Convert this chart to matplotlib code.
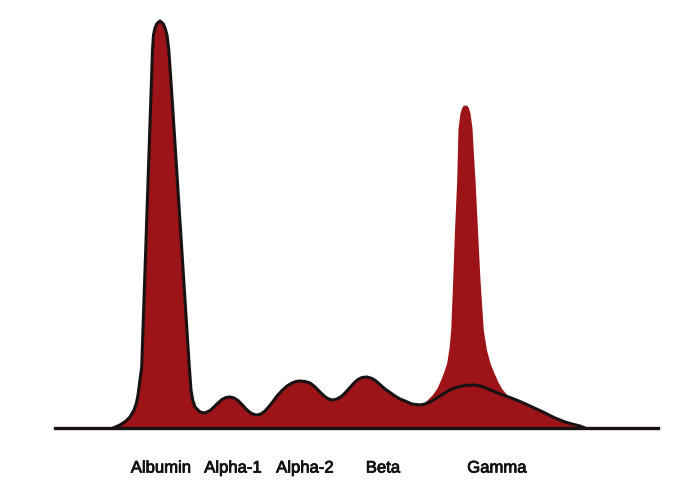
import matplotlib
matplotlib.use("Agg")
import matplotlib.pyplot as plt
import matplotlib.patheffects as pe

# Densitometer trace (x position, height above baseline)
trace_x = [113, 120, 126, 130, 134, 136.5, 138, 140, 141.7, 144, 147.4, 150.8, 152.5, 153.5, 155, 157,
           160, 163, 165, 167, 168.8, 172.2, 178.6, 185, 189.3, 191, 192.7, 195, 200,
           205, 210, 214, 218, 222, 226, 230, 234, 238, 242, 246, 250, 254, 257, 261, 265,
           269, 273, 277, 282, 287, 292, 296, 300, 305, 310, 314, 318, 322, 326, 330, 333,
           337, 342, 346, 350, 354, 358, 362, 367, 372, 376, 381, 385, 390, 395, 400, 405,
           412, 420, 425, 430, 435, 440, 445, 450, 456, 462, 468, 475, 482, 488, 494, 500,
           510, 520, 530, 543, 555, 565, 572, 580, 585]
trace_h = [0, 3, 7, 11, 18, 25, 33, 48, 61, 128, 228, 328, 378, 393, 400, 404.5,
           407, 404.5, 400, 393, 378, 328, 228, 128, 61, 38, 28, 21, 16,
           15, 17.5, 21, 25, 28.5, 30.5, 31, 30, 27.5, 23.5, 19, 15.5, 13.5, 13, 14, 17,
           21.5, 26.5, 32, 37.5, 42, 45, 46.5, 47, 46.5, 45, 42, 38, 34, 30.5, 28.5, 28,
           29, 32, 36, 40.5, 45, 48.5, 50.5, 51, 49.5, 47, 42.5, 39, 35.5, 32, 29, 27,
           24, 23, 24, 26, 29, 32, 35, 38, 40.5, 42, 42.8, 43, 41.5, 39, 36.5, 34,
           30.5, 26.5, 22, 16, 10, 6, 4, 2, 0]

# Monoclonal spike in the gamma region (fill only)
spike_x = [425, 432, 437, 441, 444, 446.7, 449, 450.7, 452.7, 454.5, 456.7, 458, 460, 461.5, 463, 465,
           467, 468.5, 470, 472, 473.5, 475, 477.5, 480, 483.3, 486.5, 490, 494, 498, 502, 508]
spike_h = [26, 33, 40, 49, 57, 65, 80, 98, 148, 198, 248, 300, 315, 320, 322.5, 323,
           322.5, 320, 315, 300, 273, 248, 198, 148, 98, 78, 65, 55, 46, 39, 32]

labels = ["Albumin", "Alpha-1", "Alpha-2", "Beta", "Gamma"]
label_x = [161, 233, 305, 383, 497]

baseline_x = [55, 658]

fill_color = "#9c1417"
line_color = "#1a1212"

fig = plt.figure(figsize=(6.9, 5.0), dpi=100)
ax = fig.add_axes([0, 0, 1, 1])
ax.set_xlim(0, 690)
ax.set_ylim(-72, 428)
ax.axis("off")

ax.fill_between(trace_x, 0, trace_h, color=fill_color, linewidth=0, zorder=2)
ax.fill_between(spike_x, 0, spike_h, color=fill_color, linewidth=0, zorder=2)
ax.plot(trace_x, trace_h, color=line_color, linewidth=2.2, solid_joinstyle="round",
        solid_capstyle="round", zorder=3)
ax.plot(baseline_x, [0, 0], color=line_color, linewidth=2.4, zorder=4)

for lx, lab in zip(label_x, labels):
    ax.text(lx, -40, lab, ha="center", va="center", fontsize=12,
            family="Liberation Sans", color="#111111",
            path_effects=[pe.withStroke(linewidth=0.6, foreground="#111111")])

fig.savefig("out.png", dpi=100, facecolor="white")
